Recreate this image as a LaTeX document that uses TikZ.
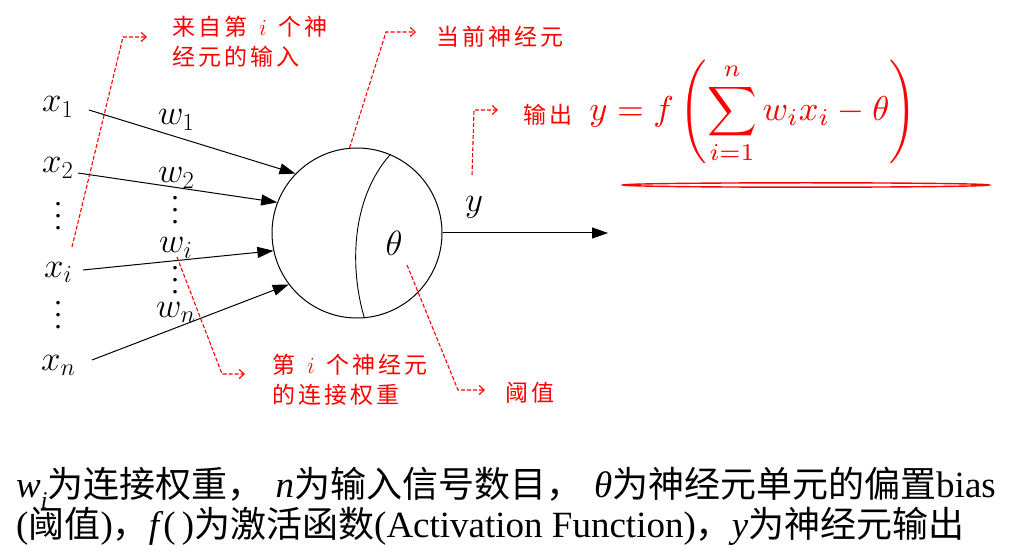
\RequirePackage{fix-cm}
\documentclass[tikz,border=0pt]{standalone}
\usepackage{amsmath}
\usepackage{graphicx}
\usepackage{fontspec}
\setmainfont{Liberation Serif}
\newfontfamily\cjk[LetterSpace=13]{Noto Sans CJK SC}
\newfontfamily\hei{Noto Sans CJK SC}
\usetikzlibrary{arrows.meta,calc}
\newcommand\hz[1]{{\hei\fontsize{36}{40}\selectfont #1}}
\newcommand\bigvdots{\scalebox{3}{$\vdots$}}
\begin{document}
\begin{tikzpicture}[x=1pt,y=-1pt,
  lab/.style={font=\fontsize{35}{40}\selectfont, inner sep=0pt, anchor=base west},
  dotsn/.style={inner sep=0pt},
  ann/.style={text=red, font=\cjk\fontsize{23}{26}\selectfont, inner sep=0pt, anchor=west},
  inarrow/.style={line width=1pt, -{Triangle[length=16pt,width=11pt]}},
  pointer/.style={red, line width=1.1pt, dash pattern=on 4pt off 2pt, -{Straight Barb[length=5pt,width=9pt]}},
  bottomline/.style={font=\fontsize{37}{40}\selectfont, inner sep=0pt, anchor=base west}]
\useasboundingbox (0,0) rectangle (1014,553);

% inputs
\node[lab] (x1) at (42,112) {$x_1$};
\node[lab] (x2) at (42,173) {$x_2$};
\node[dotsn] (vd1) at (58,207) {\bigvdots};
\node[lab] (xi) at (44,277) {$x_i$};
\node[dotsn] (vd2) at (58,306) {\bigvdots};
\node[lab] (xn) at (41,370) {$x_n$};

% weights
\node[lab] (w1) at (158,125) {$w_1$};
\node[lab] (w2) at (158,183) {$w_2$};
\node[dotsn] (wd1) at (175,201) {\bigvdots};
\node[lab] (wi) at (159,253) {$w_i$};
\node[dotsn] (wd2) at (175,271) {\bigvdots};
\node[lab] (wn) at (156,317) {$w_n$};

% neuron
\node[circle, draw, line width=1pt, minimum size=170pt, inner sep=0pt] (neuron) at (357,233) {};
\draw[line width=0.9pt] (neuron.67) .. controls (350,200) and (350,270) .. (neuron.-85);
\node[font=\fontsize{35}{40}\selectfont, inner sep=0pt] (theta) at (394,243) {$\theta$};

% input arrows
\coordinate (s1) at (89,110);
\coordinate (s2) at (78,173);
\coordinate (si) at (83,270);
\coordinate (sn) at (92,360);
\draw[inarrow] (s1) -- (neuron.136);
\draw[inarrow] (s2) -- (neuron.159);
\draw[inarrow] (si) -- (neuron.192);
\draw[inarrow] (sn) -- (neuron.217);

% output
\coordinate (yout) at (608,233);
\draw[inarrow] (neuron.east) -- (yout);
\node[font=\fontsize{35}{40}\selectfont, inner sep=0pt] (ylab) at (474,207) {$y$};

% red pointers
\coordinate (p1s) at (72,247); \coordinate (p1c) at (123,37); \coordinate (p1e) at (147,37);
\draw[pointer] (p1s) -- (p1c) -- (p1e);
\node[ann] (t1a) at (172,27) {来自第\ \,$i$\ \,个神};
\node[ann] (t1b) at (172,57) {经元的输入};

\coordinate (p2c) at (386,32); \coordinate (p2e) at (416,32);
\draw[pointer] (neuron.95) -- (p2c) -- (p2e);
\node[ann] (t2) at (436,37) {当前神经元};

\coordinate (p3s) at (472,175); \coordinate (p3c) at (474,110); \coordinate (p3e) at (498,110);
\draw[pointer] (p3s) -- (p3c) -- (p3e);
\node[ann] (t3) at (523,115) {输出};
\node[text=red, inner sep=0pt] (formula) at (753,112)
  {\scalebox{3.45}{$\displaystyle y = f\left(\sum_{i=1}^{n} w_i x_i - \theta\right)$}};
\draw[red, line width=1.4pt] (806,185) ellipse [x radius=183, y radius=2.2];

\coordinate (p4s) at (177,257); \coordinate (p4c) at (222,374); \coordinate (p4e) at (245,374);
\draw[pointer] (p4s) -- (p4c) -- (p4e);
\node[ann] (t4a) at (272,365) {第\ \,$i$\ \,个神经元};
\node[ann] (t4b) at (272,395) {的连接权重};

\coordinate (p5s) at (407,265); \coordinate (p5c) at (458,390); \coordinate (p5e) at (485,390);
\draw[pointer] (p5s) -- (p5c) -- (p5e);
\node[ann] (t5) at (505,393) {阈值};

% bottom text
\node[bottomline] (line1) at (16,497) {\textit{w}\raisebox{-0.3em}{\fontsize{24}{24}\selectfont\textit{i}}\hz{为连接权重，}\hspace{12pt}\textit{n}\hz{为输入信号数目，}\hspace{12pt}\textit{θ}\hz{为神经元单元的偏置}bias};
\node[bottomline] (line2) at (16,537) {(\hz{阈值})\hz{，}\textit{f}(\,)\hz{为激活函数}(Activation Function)\hz{，}\textit{y}\hz{为神经元输出}};
\end{tikzpicture}
\end{document}
